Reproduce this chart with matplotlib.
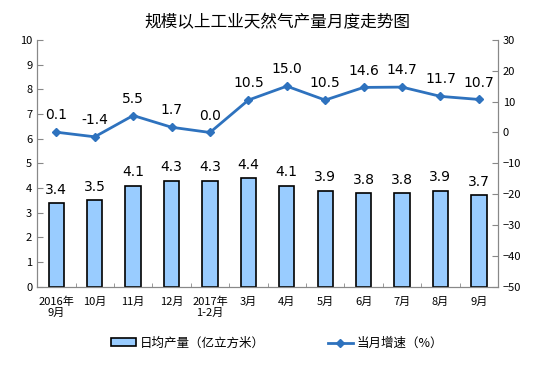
import matplotlib
matplotlib.use("Agg")
import matplotlib.pyplot as plt
import numpy as np

plt.rcParams['font.family'] = ['Noto Sans CJK SC', 'DejaVu Sans']

# data
months = ["2016年\n9月", "10月", "11月", "12月", "2017年\n1-2月", "3月",
          "4月", "5月", "6月", "7月", "8月", "9月"]
daily_output = [3.4, 3.5, 4.1, 4.3, 4.3, 4.4, 4.1, 3.9, 3.8, 3.8, 3.9, 3.7]
growth = [0.1, -1.4, 5.5, 1.7, 0.0, 10.5, 15.0, 10.5, 14.6, 14.7, 11.7, 10.7]

fig = plt.figure(figsize=(5.54, 3.76), dpi=100)
ax = fig.add_axes([0.067, 0.237, 0.832, 0.657])
ax2 = ax.twinx()

x = np.arange(len(months))
bars = ax.bar(x, daily_output, width=0.4, color="#99CCFF", edgecolor="black",
              linewidth=1.2, label="日均产量（亿立方米）", zorder=2)
line, = ax2.plot(x, growth, color="#2E72BE", linewidth=2, marker="D",
                 markersize=4, label="当月增速（%）", zorder=3)

for xi, v in zip(x, daily_output):
    ax.text(xi, v + 0.25, "%.1f" % v, ha="center", va="bottom", fontsize=10,
            family="DejaVu Sans")
for xi, v in zip(x, growth):
    ax2.text(xi, v + 3.2, "%.1f" % v, ha="center", va="bottom", fontsize=10,
             family="DejaVu Sans")

ax.set_xlim(-0.5, len(months) - 0.5)
ax.set_ylim(0, 10)
ax.set_yticks(range(0, 11))
ax2.set_ylim(-50, 30)
ax2.set_yticks(range(-50, 31, 10))

ax.set_xticks(x)
ax.set_xticklabels(months, fontsize=8, linespacing=1.1)
ax.set_xticks(np.arange(-0.5, len(months), 1), minor=True)
ax.tick_params(axis="x", which="major", length=0, pad=7)
ax.tick_params(axis="x", which="minor", direction="in", length=3, color="#888888")
ax.tick_params(axis="y", direction="in", length=4, labelsize=8, color="#888888")
ax2.tick_params(axis="y", direction="in", length=4, labelsize=8, color="#888888")

for a in (ax, ax2):
    a.spines["top"].set_visible(False)
    for s in ("left", "right", "bottom"):
        a.spines[s].set_color("#888888")

fig.suptitle("规模以上工业天然气产量月度走势图", x=0.5, y=0.962, fontsize=12)
fig.legend(handles=[bars, line], loc="center", bbox_to_anchor=(0.5, 0.087),
           ncol=2, frameon=False, fontsize=9, columnspacing=5,
           handlelength=2.0, handleheight=0.6, handletextpad=0.3)

fig.savefig("out.png", dpi=100)
